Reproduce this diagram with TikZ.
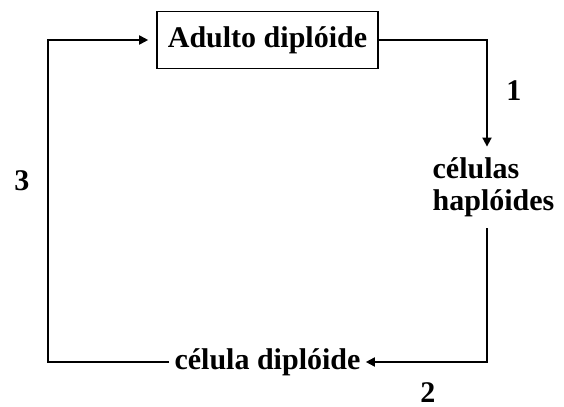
\documentclass[tikz,border=0pt]{standalone}
\usepackage{fontspec}
\setmainfont{Liberation Serif}
\usetikzlibrary{arrows.meta,positioning}

\begin{document}
\begin{tikzpicture}[x=0.5pt,y=-0.5pt,
    every node/.style={font=\fontsize{15}{16}\selectfont\bfseries},
    stage/.style={draw, line width=0.8pt, minimum width=110.5pt, minimum height=28.5pt, inner sep=0pt},
    flow/.style={line width=0.9pt, -{Triangle[length=4.5pt,width=4.5pt]}},
    plain/.style={line width=0.9pt}]
\useasboundingbox (0,0) rectangle (564,407);
\node[stage] (adulto) at (267.5,40) {Adulto diplóide};
\node[align=left, inner sep=0pt, minimum height=40.5pt] (haplo) at (493.5,187.5) {células\\haplóides};
\node[inner xsep=2.5pt] (diplo) at (267.5,362) {célula diplóide};
\node (n1) at (514,91) {1};
\node (n2) at (428,393) {2};
\node (n3) at (22,181) {3};
\draw[flow] (adulto.east) -| ([xshift=-3.25pt]haplo.north);
\draw[flow] ([xshift=-3.25pt]haplo.south) |- (diplo.east);
\draw[flow, shorten >=4pt] (diplo.west) -| (48,200) |- (adulto.west);
\end{tikzpicture}
\end{document}
